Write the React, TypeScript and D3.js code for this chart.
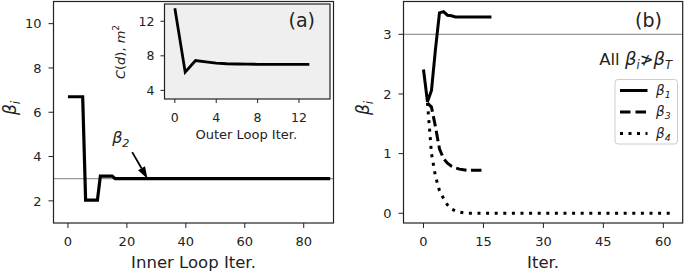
import React from "react";
import * as d3 from "d3";

// ---- data ----
const innerIter = [0, 5, 6, 10, 11, 15, 16, 89];
const innerBeta = [6.7, 6.7, 2.03, 2.03, 3.12, 3.12, 3.0, 3.0];

const outerIter = [0, 1, 2, 3, 4, 5, 6, 7, 8, 9, 10, 11, 12, 13];
const outerCost = [13.5, 6.1, 7.45, 7.3, 7.15, 7.08, 7.05, 7.03, 7.02, 7.0, 7.0, 7.0, 7.0, 7.0];

const iterB1 = [0, 1, 2, 3, 4, 5, 6, 7, 8, 9, 10, 11, 12, 13, 14, 15, 16, 17];
const beta1 = [2.41, 1.87, 2.06, 2.75, 3.36, 3.38, 3.32, 3.31, 3.29, 3.29, 3.29, 3.29, 3.29, 3.29, 3.29, 3.29, 3.29, 3.29];
const iterB3 = [1, 2, 3, 4, 5, 6, 7, 8, 9, 10, 11, 12, 13, 14, 15];
const beta3 = [1.85, 1.78, 1.45, 1.08, 0.92, 0.84, 0.79, 0.76, 0.74, 0.73, 0.72, 0.72, 0.72, 0.72, 0.72];
const iterB4 = [1, 2, 3, 4, 5, 6, 7, 8, 9, 10, 11, 12, 63];
const beta4 = [1.85, 1.0, 0.62, 0.38, 0.25, 0.14, 0.07, 0.04, 0.02, 0.01, 0.0, 0.0, 0.0];

const leftXTicks = [0, 20, 40, 60, 80];
const leftYTicks = [2, 4, 6, 8, 10];
const insetXTicks = [0, 4, 8, 12];
const insetYTicks = [4, 8, 12];
const rightXTicks = [0, 15, 30, 45, 60];
const rightYTicks = [0, 1, 2, 3];
const betaTarget = 3;

const FONT = "DejaVu Sans, sans-serif";
const TXT = "#222";

type Pt = [number, number];
const zipPts = (xs: number[], ys: number[]): Pt[] => xs.map((x, i) => [x, ys[i]]);

function Axes({ x, y, xTicks, yTicks, fs, tl = 5, xpad = 8.4, ypad = 7 }: any) {
  const [x0, x1] = x.range();
  const [y0, y1] = y.range();
  return (
    <g>
      <rect x={x0} y={y1} width={x1 - x0} height={y0 - y1} fill="none" stroke={TXT} strokeWidth={1.2} />
      {xTicks.map((t: number) => (
        <g key={"x" + t}>
          <line x1={x(t)} x2={x(t)} y1={y0} y2={y0 + tl} stroke={TXT} strokeWidth={1} />
          <text x={x(t)} y={y0 + tl + xpad + fs * 0.73} textAnchor="middle" fontSize={fs} fill={TXT} fontFamily={FONT}>{t}</text>
        </g>
      ))}
      {yTicks.map((t: number) => (
        <g key={"y" + t}>
          <line x1={x0 - tl} x2={x0} y1={y(t)} y2={y(t)} stroke={TXT} strokeWidth={1} />
          <text x={x0 - tl - ypad} y={y(t)} dy="0.36em" textAnchor="end" fontSize={fs} fill={TXT} fontFamily={FONT}>{t}</text>
        </g>
      ))}
    </g>
  );
}

function Beta({ sub, fs }: { sub: string; fs: number }) {
  return (
    <>
      <tspan fontStyle="italic">β</tspan>
      <tspan fontStyle="italic" fontSize={fs * 0.7} dy={fs * 0.22}>{sub}</tspan>
    </>
  );
}

export default function App() {
  // left panel
  const xL = d3.scaleLinear().domain([-4.9, 90.1]).range([53.5, 333.5]);
  const yL = d3.scaleLinear().domain([1, 11]).range([223, 1.5]);
  // inset
  const xI = d3.scaleLinear().domain([-1, 15]).range([164.5, 330]);
  const yI = d3.scaleLinear().domain([3, 14]).range([99, 4]);
  // right panel
  const xR = d3.scaleLinear().domain([-5, 64.85]).range([403.5, 682.7]);
  const yR = d3.scaleLinear().domain([-0.163, 3.55]).range([223, 1.5]);

  const lineL = d3.line<Pt>().x((d) => xL(d[0])).y((d) => yL(d[1]));
  const lineI = d3.line<Pt>().x((d) => xI(d[0])).y((d) => yI(d[1]));
  const lineR = d3.line<Pt>().x((d) => xR(d[0])).y((d) => yR(d[1]));

  const arrowTail: Pt = [21.8, 4.2];
  const arrowHead: Pt = [27, 3.0];
  const ax0 = xL(arrowTail[0]), ay0 = yL(arrowTail[1]);
  const ax1 = xL(arrowHead[0]), ay1 = yL(arrowHead[1]);
  const ang = Math.atan2(ay1 - ay0, ax1 - ax0);
  const hl = 12, hw = 4;
  const bx = ax1 - hl * Math.cos(ang), by = ay1 - hl * Math.sin(ang);
  const px = -Math.sin(ang) * hw, py = Math.cos(ang) * hw;

  const legendRows = [
    { sub: "1", dash: "none" },
    { sub: "3", dash: "10.5,5" },
    { sub: "4", dash: "3,5.5" },
  ];

  return (
    <svg width={685} height={272} style={{ position: "absolute", left: 0, top: 0, background: "#fff" }} fontFamily={FONT}>
      {/* LEFT PANEL */}
      <line x1={xL.range()[0]} x2={xL.range()[1]} y1={yL(betaTarget)} y2={yL(betaTarget)} stroke="#999" strokeWidth={1.2} />
      <path d={lineL(zipPts(innerIter, innerBeta)) || ""} fill="none" stroke="#000" strokeWidth={3.2} strokeLinejoin="miter" />
      <Axes x={xL} y={yL} xTicks={leftXTicks} yTicks={leftYTicks} fs={13} />
      <text x={(xL.range()[0] + xL.range()[1]) / 2} y={268} textAnchor="middle" fontSize={16.5} fill={TXT}>Inner Loop Iter.</text>
      <text transform={`translate(16,108) rotate(-90)`} textAnchor="middle" fontSize={17} fill={TXT}>
        <Beta sub="i" fs={17} />
      </text>
      {/* beta2 annotation */}
      <text x={xL(15)} y={yL(4.6)} fontSize={16} fill={TXT}>
        <Beta sub="2" fs={16} />
      </text>
      <line x1={ax0} y1={ay0} x2={bx} y2={by} stroke="#000" strokeWidth={1.8} />
      <polygon points={`${ax1},${ay1} ${bx + px},${by + py} ${bx - px},${by - py}`} fill="#000" />

      {/* INSET */}
      <rect x={xI.range()[0]} y={yI.range()[1]} width={xI.range()[1] - xI.range()[0]} height={yI.range()[0] - yI.range()[1]} fill="#efefef" />
      <path d={lineI(zipPts(outerIter, outerCost)) || ""} fill="none" stroke="#000" strokeWidth={2.8} />
      <Axes x={xI} y={yI} xTicks={insetXTicks} yTicks={insetYTicks} fs={12.5} tl={4} xpad={9.5} ypad={6} />
      <text x={(xI(-1) + xI(15)) / 2 - 1} y={139} textAnchor="middle" fontSize={13} fill={TXT}>Outer Loop Iter.</text>
      <text transform={`translate(125,52) rotate(-90)`} textAnchor="middle" fontSize={13} fill={TXT}>
        <tspan fontStyle="italic">C</tspan>(<tspan fontStyle="italic">d</tspan>), <tspan fontStyle="italic">m</tspan>
        <tspan fontSize={9} dy={-6}>2</tspan>
      </text>
      <text x={315} y={27} textAnchor="end" fontSize={19} fill={TXT}>(a)</text>

      {/* RIGHT PANEL */}
      <line x1={xR.range()[0]} x2={xR.range()[1]} y1={yR(betaTarget)} y2={yR(betaTarget)} stroke="#999" strokeWidth={1.2} />
      <path d={lineR(zipPts(iterB4, beta4)) || ""} fill="none" stroke="#000" strokeWidth={3} strokeDasharray="3,5.6" />
      <path d={lineR(zipPts(iterB3, beta3)) || ""} fill="none" stroke="#000" strokeWidth={3} strokeDasharray="10.5,4.5" />
      <path d={lineR(zipPts(iterB1, beta1)) || ""} fill="none" stroke="#000" strokeWidth={3} />
      <Axes x={xR} y={yR} xTicks={rightXTicks} yTicks={rightYTicks} fs={13} />
      <text x={(xR.range()[0] + xR.range()[1]) / 2} y={268} textAnchor="middle" fontSize={16.5} fill={TXT}>Iter.</text>
      <text transform={`translate(369,108) rotate(-90)`} textAnchor="middle" fontSize={17} fill={TXT}>
        <Beta sub="i" fs={17} />
      </text>
      <text x={662} y={27} textAnchor="end" fontSize={19} fill={TXT}>(b)</text>
      <text x={672} y={65} textAnchor="end" fontSize={16.5} fill={TXT}>
        All <tspan fontStyle="italic" fontSize={18}>β</tspan>
        <tspan fontStyle="italic" fontSize={11.5} dy={3.5}>i</tspan>
        <tspan dy={-3.5}>≯</tspan>
        <tspan fontStyle="italic" fontSize={18}>β</tspan>
        <tspan fontStyle="italic" fontSize={11.5} dy={3.5}>T</tspan>
      </text>
      {/* legend */}
      <rect x={615} y={79.5} width={62.5} height={64.5} rx={3} fill="#fff" fillOpacity={0.85} stroke="#ccc" strokeWidth={1} />
      {legendRows.map((r, i) => {
        const yy = 90.5 + i * 21.5;
        return (
          <g key={r.sub}>
            <line x1={620} x2={647.5} y1={yy} y2={yy} stroke="#000" strokeWidth={3} strokeDasharray={r.dash} />
            <text x={656} y={yy} dy="0.3em" fontSize={13.5} fill={TXT}>
              <Beta sub={r.sub} fs={13.5} />
            </text>
          </g>
        );
      })}
    </svg>
  );
}
